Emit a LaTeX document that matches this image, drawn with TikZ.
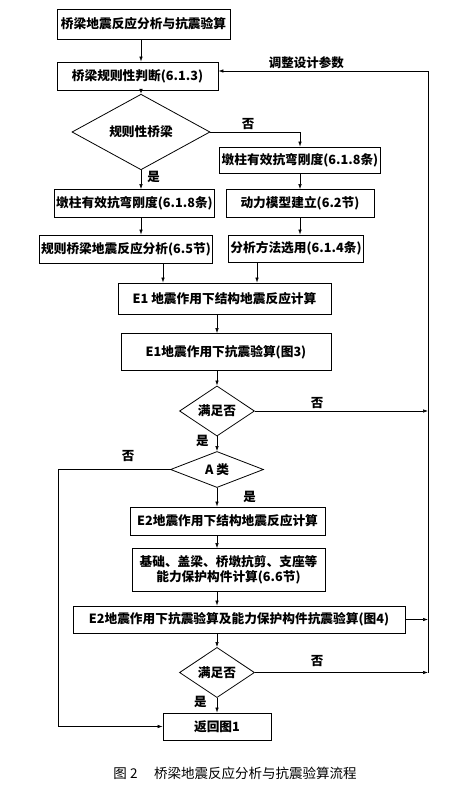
\documentclass[tikz,border=0pt]{standalone}
\usepackage{fontspec}
\setmainfont{Noto Sans CJK SC}
\usetikzlibrary{arrows.meta,positioning,shapes.geometric}
\tikzset{
  >={Latex[length=5pt,width=3.5pt]},
  block/.style={draw, line width=0.8pt, minimum height=28pt, inner sep=2pt, align=center, font=\bfseries\fontsize{12.7}{15.5}\selectfont},
  test/.style={diamond, draw, line width=0.8pt, inner sep=0pt, font=\bfseries\fontsize{12.7}{15}\selectfont},
  note/.style={font=\bfseries\fontsize{12.5}{14}\selectfont, inner sep=2pt},
  link/.style={line width=0.6pt},
}
\begin{document}
\begin{tikzpicture}[x=1pt, y=-1pt]
  \useasboundingbox (0,0) rectangle (473,789);
  % main column
  \node[block, minimum width=173pt, minimum height=30pt] (start) at (143.5,24) {桥梁地震反应分析与抗震验算};
  \node[block, minimum width=161pt] (rule) at (137.5,76) {桥梁规则性判断(6.1.3)};
  \node[test, minimum width=138pt, minimum height=40pt] (regular) at (141,132) {规则性桥梁};
  % right branch
  \node[block, minimum width=153pt, minimum height=26pt] (stiffR) at (300,160) {墩柱有效抗弯刚度(6.1.8条)};
  \node[block, minimum width=148pt] (model) at (300,203.5) {动力模型建立(6.2节)};
  \node[block, minimum width=128pt, minimum height=27pt] (method) at (296,248.5) {分析方法选用(6.1.4条)};
  % left branch
  \node[block, minimum width=155pt] (stiffL) at (134.5,203.5) {墩柱有效抗弯刚度(6.1.8条)};
  \node[block, minimum width=172pt] (simple) at (126,249) {规则桥梁地震反应分析(6.5节)};
  % E1
  \node[block, minimum width=213pt, minimum height=31pt] (eonecalc) at (224.5,298.5) {E1 地震作用下结构地震反应计算};
  \node[block, minimum width=210pt, minimum height=37pt] (eonecheck) at (226,352) {E1地震作用下抗震验算(图3)};
  \node[test, minimum width=75pt, minimum height=41pt] (okone) at (217,411) {满足否};
  \node[test, minimum width=93pt, minimum height=35pt] (classA) at (217,469.5) {A 类};
  % E2
  \node[block, minimum width=195pt] (etwocalc) at (227.5,521) {E2地震作用下结构地震反应计算};
  \node[block, minimum width=193pt, minimum height=43pt] (capacity) at (228.5,570) {基础、盖梁、桥墩抗剪、支座等\\能力保护构件计算(6.6节)};
  \node[block, minimum width=332pt, minimum height=27pt] (etwocheck) at (239,619.5) {E2地震作用下抗震验算及能力保护构件抗震验算(图4)};
  \node[test, minimum width=75pt, minimum height=41pt] (oktwo) at (217,672.5) {满足否};
  \node[block, minimum width=108pt, minimum height=27pt] (back) at (217,726.5) {返回图1};
  \node[font=\fontsize{13.5}{15}\selectfont] (caption) at (235,773) {图 2\quad\ 桥梁地震反应分析与抗震验算流程};
  % loop back
  \coordinate (loopB) at (428,672.5);
  \coordinate (loopT) at (428,71);

  \draw[link,->] (regular |- start.south) -- (regular |- rule.north);
  \draw[link,->] (regular |- rule.south) -- (regular.north);
  \draw[link,->] (regular.east) -| node[note, above, pos=0.21] {否} (stiffR.north);
  \draw[link,->] (stiffR) -- (model);
  \draw[link,->] (model.south) -- (model.south |- method.north);
  \draw[link,->] (regular.south) -- node[note, right=4pt, pos=0.35] {是} (regular |- stiffL.north);
  \draw[link,->] (regular |- stiffL.south) -- (regular |- simple.north);
  \draw[link,->] ([xshift=37pt]simple.south) -- ([xshift=37pt]simple.south |- eonecalc.north);
  \draw[link,->] ([xshift=-39pt]method.south) -- ([xshift=-39pt]method.south |- eonecalc.north);
  \draw[link,->] (okone |- eonecalc.south) -- (okone |- eonecheck.north);
  \draw[link,->] (okone |- eonecheck.south) -- (okone.north);
  \draw[link,->] (okone.east) -- node[note, above, pos=0.36] {否} (okone.east -| loopT);
  \draw[link,->] (okone.south) -- node[note, left=6pt, pos=0.3] {是} (classA.north);
  \draw[link,->] (classA.south) -- node[note, right=24pt, pos=0.5] {是} (classA |- etwocalc.north);
  \draw[link,->] (classA.west) -- node[note, above=6pt, pos=0.375] {否} ++(-112,0) |- (back.west);
  \draw[link,->] (classA |- etwocalc.south) -- (classA |- capacity.north);
  \draw[link,->] (classA |- capacity.south) -- (classA |- etwocheck.north);
  \draw[link,->] (etwocheck.east) -- (etwocheck.east -| loopT);
  \draw[link,->] (oktwo |- etwocheck.south) -- (oktwo.north);
  \draw[link,->] (oktwo.east) -- node[note, above=4pt, pos=0.36] {否} (loopB);
  \draw[link,->] (oktwo.south) -- node[note, left=8pt, pos=0.3] {是} (back);
  \draw[link,->] (loopB) -- (loopT) -- node[note, above, pos=0.58] {调整设计参数} (loopT -| rule.east);
\end{tikzpicture}
\end{document}
